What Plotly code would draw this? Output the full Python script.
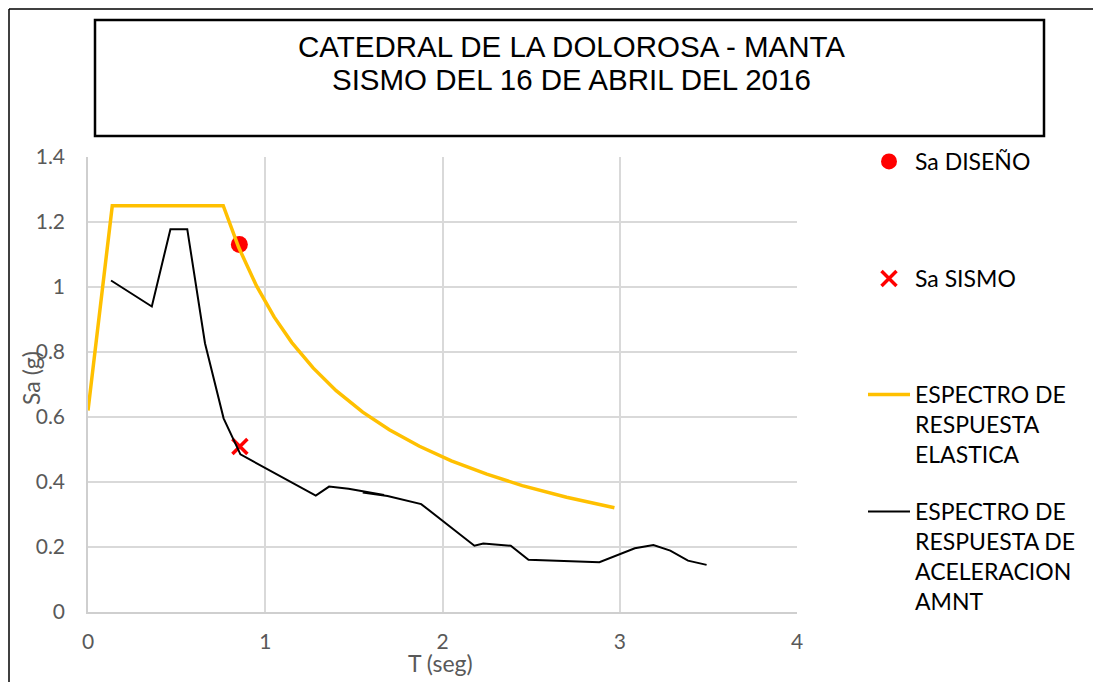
import plotly.graph_objects as go

# ---- data ----
T_elastica = [0, 0.137, 0.763, 0.85, 0.95, 1.05, 1.15, 1.27, 1.40, 1.55, 1.70, 1.87,
              2.05, 2.25, 2.45, 2.70, 2.97]
Sa_elastica = [0.62, 1.25, 1.25, 1.122, 1.004, 0.908, 0.829, 0.751, 0.681, 0.615, 0.561,
               0.510, 0.465, 0.424, 0.389, 0.353, 0.321]

T_amnt = [0.13, 0.36, 0.465, 0.56, 0.66, 0.765, 0.86, 1.285, 1.36, 1.47, 1.67, 1.55,
          1.69, 1.88, 2.18, 2.23, 2.385, 2.485, 2.885, 3.085, 3.19, 3.285, 3.385, 3.49]
Sa_amnt = [1.02, 0.94, 1.178, 1.178, 0.827, 0.596, 0.485, 0.358, 0.386, 0.379, 0.360, 0.368,
           0.357, 0.332, 0.204, 0.211, 0.204, 0.161, 0.153, 0.196, 0.206, 0.189, 0.158, 0.145]

T_diseno = [0.854]
Sa_diseno = [1.131]
T_sismo = [0.857]
Sa_sismo = [0.509]

title_lines = ["CATEDRAL DE LA DOLOROSA - MANTA", "SISMO DEL 16 DE ABRIL DEL 2016"]
x_ticks = [0, 1, 2, 3, 4]
y_ticks = [0, 0.2, 0.4, 0.6, 0.8, 1.0, 1.2, 1.4]

# ---- layout helpers (window pixel -> paper); page body has an 8px offset ----
OFF = 8
W, H = 1101, 682
PL, PR, PT, PB = 88, 797, 157, 612          # plot area in window pixels
ML, MT = PL - OFF, PT - OFF
PW, PH = PR - PL, PB - PT
MR, MB = W - ML - PW, H - MT - PH


def px(x):
    return (x - PL) / PW


def py(y):
    return (PB - y) / PH


FONT = "Lato, Carlito, Calibri, sans-serif"
legfont = dict(family=FONT, size=23, color="#000000")

fig = go.Figure()
fig.add_trace(go.Scatter(x=T_diseno, y=Sa_diseno, mode="markers", name="Sa DISEÑO",
                         marker=dict(symbol="circle", size=17, color="#FF0000"),
                         legend="legend"))
fig.add_trace(go.Scatter(x=T_sismo, y=Sa_sismo, mode="markers", name="Sa SISMO",
                         marker=dict(symbol="x-thin", size=15, color="#FF0000",
                                     line=dict(color="#FF0000", width=3.5)),
                         legend="legend2"))
fig.add_trace(go.Scatter(x=T_elastica, y=Sa_elastica, mode="lines",
                         name="ESPECTRO DE<br>RESPUESTA<br>ELASTICA",
                         line=dict(color="#FFC000", width=3.5), legend="legend3"))
fig.add_trace(go.Scatter(x=T_amnt, y=Sa_amnt, mode="lines",
                         name="ESPECTRO DE<br>RESPUESTA DE<br>ACELERACION<br>AMNT",
                         line=dict(color="#000000", width=2), legend="legend4"))


def leg(ypix):
    return dict(x=px(863), y=py(ypix), xanchor="left", yanchor="top",
                font=legfont, bgcolor="rgba(0,0,0,0)", valign="top",
                itemwidth=42, tracegroupgap=0)


shapes = [
    # outer chart border (left & top)
    dict(type="line", xref="paper", yref="paper", x0=px(9), x1=px(9), y0=py(H + 20), y1=py(9),
         line=dict(color="#000000", width=1.5)),
    dict(type="line", xref="paper", yref="paper", x0=px(9), x1=px(W + 20), y0=py(9), y1=py(9),
         line=dict(color="#000000", width=1.5)),
    # title box
    dict(type="rect", xref="paper", yref="paper", x0=px(95), x1=px(1044), y0=py(136), y1=py(20),
         line=dict(color="#000000", width=2.5), fillcolor="rgba(0,0,0,0)"),
]

annotations = [
    dict(text=title_lines[0], xref="paper", yref="paper", x=px(571), y=py(47),
         xanchor="center", yanchor="middle", showarrow=False,
         font=dict(family="Liberation Sans, Arial, sans-serif", size=29.5, color="#000000")),
    dict(text=title_lines[1], xref="paper", yref="paper", x=px(571), y=py(80),
         xanchor="center", yanchor="middle", showarrow=False,
         font=dict(family="Liberation Sans, Arial, sans-serif", size=29.5, color="#000000")),
    dict(text="Sa (g)", xref="paper", yref="paper", x=px(31), y=py(378),
         xanchor="center", yanchor="middle", showarrow=False, textangle=-90,
         font=dict(family=FONT, size=23, color="#595959")),
    dict(text="T (seg)", xref="paper", yref="paper", x=px(440), y=py(663),
         xanchor="center", yanchor="middle", showarrow=False,
         font=dict(family=FONT, size=23, color="#595959")),
]

fig.update_layout(
    width=W, height=H,
    margin=dict(l=ML, r=MR, t=MT, b=MB, pad=0),
    paper_bgcolor="#FFFFFF", plot_bgcolor="#FFFFFF",
    showlegend=True,
    legend=leg(140),
    legend2=leg(257),
    legend3=leg(373),
    legend4=leg(490),
    shapes=shapes,
    annotations=annotations,
    xaxis=dict(range=[0, 4], tickvals=x_ticks, showgrid=True, gridcolor="#D9D9D9", gridwidth=1.5,
               showline=True, linecolor="#CFCFCF", linewidth=1.5, zeroline=False,
               ticks="", tickfont=dict(family=FONT, size=21, color="#595959"),
               ticklabelstandoff=10, fixedrange=True),
    yaxis=dict(range=[0, 1.4], tickvals=y_ticks, showgrid=True, gridcolor="#D9D9D9", gridwidth=1.5,
               showline=True, linecolor="#CFCFCF", linewidth=1.5, zeroline=False,
               ticks="", tickfont=dict(family=FONT, size=21, color="#595959"),
               ticklabelstandoff=17, fixedrange=True),
)

fig.write_html("out.html")
